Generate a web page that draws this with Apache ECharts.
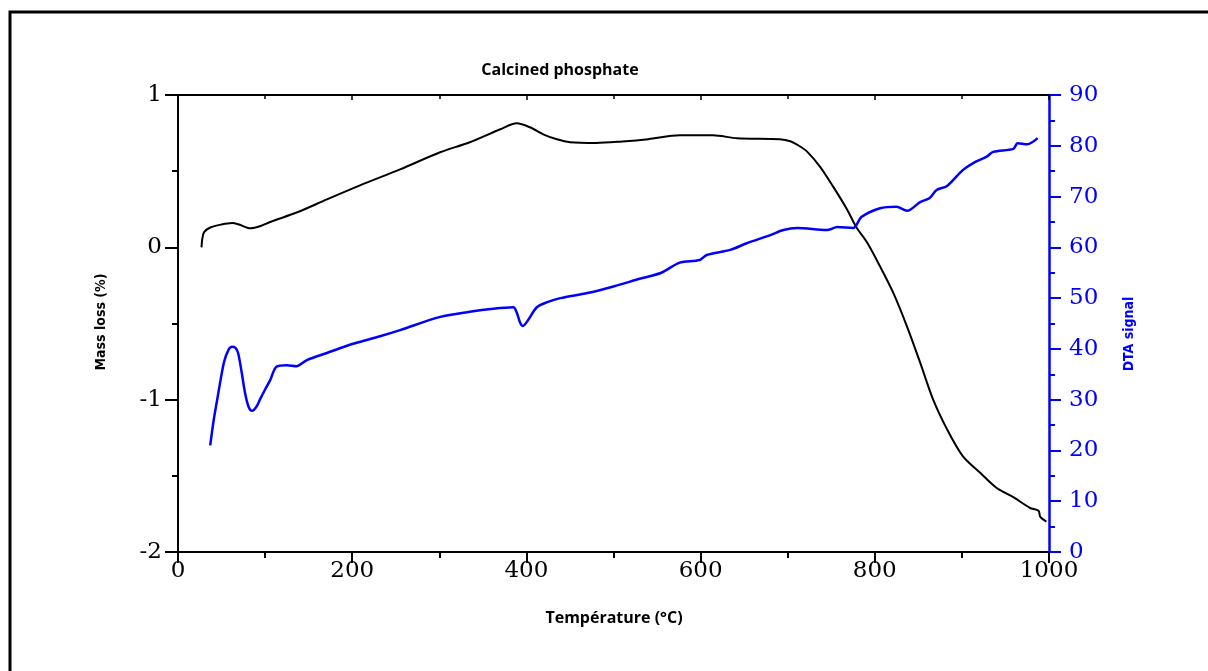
<!DOCTYPE html>
<html>
<head>
<meta charset="utf-8">
<script src="https://cdn.jsdelivr.net/npm/echarts@6/dist/echarts.min.js"></script>
<style>html,body{margin:0;padding:0;background:#fff}#c{width:1208px;height:671px}</style>
</head>
<body>
<div id="c"></div>
<script>
// Mass loss (TG) curve: [temperature °C, mass loss %]
const tgTemp = [27, 28, 30, 37, 50, 62, 70, 83, 95, 105, 137, 171, 209, 255, 301, 335, 370, 389, 404, 420, 435, 450, 480, 510, 540, 576, 614, 642, 691, 703, 712, 722, 737, 752, 768, 779, 791, 806, 821, 837, 852, 867, 883, 901, 921, 940, 959, 978, 988, 990, 997];
const tgValue = [0, 0.06, 0.1, 0.13, 0.15, 0.16, 0.15, 0.125, 0.14, 0.165, 0.23, 0.315, 0.407, 0.512, 0.624, 0.69, 0.775, 0.814, 0.788, 0.74, 0.709, 0.69, 0.685, 0.695, 0.71, 0.735, 0.735, 0.716, 0.709, 0.696, 0.67, 0.63, 0.53, 0.40, 0.25, 0.13, 0.033, -0.125, -0.296, -0.52, -0.755, -1.0, -1.195, -1.37, -1.48, -1.58, -1.64, -1.71, -1.73, -1.77, -1.80];
// DTA signal curve: [temperature °C, signal]
const dtaTemp = [37, 41, 45, 49, 53, 58, 62, 66, 69, 73, 77, 81, 85, 90, 94, 100, 106, 113, 125, 136, 148, 171, 201, 232, 255, 301, 335, 362, 385, 389, 393, 396, 402, 412, 424, 439, 470, 500, 530, 555, 576, 599, 607, 634, 653, 680, 695, 711, 745, 757, 775, 785, 806, 825, 837, 852, 863, 871, 883, 901, 913, 928, 936, 959, 964, 975, 987];
const dtaValue = [21, 26, 30, 34, 37.5, 39.8, 40.4, 40.2, 39.2, 35.5, 31.3, 28.6, 27.8, 28.6, 30, 32, 33.9, 36.5, 36.8, 36.6, 37.8, 39.2, 41, 42.5, 43.7, 46.3, 47.3, 47.9, 48.2, 47.1, 45.1, 44.5, 45.7, 48.2, 49.2, 50, 51, 52.3, 53.8, 55, 57, 57.5, 58.5, 59.5, 60.8, 62.4, 63.4, 63.8, 63.4, 64, 63.8, 66, 67.7, 68, 67.2, 68.9, 69.7, 71.3, 72.1, 75.2, 76.6, 77.8, 78.8, 79.4, 80.5, 80.3, 81.5];
const titleText = 'Calcined phosphate';
const xName = 'Température (°C)';
const yLeftName = 'Mass loss (%)';
const yRightName = 'DTA signal';

const tgData = tgTemp.map((t, i) => [t, tgValue[i]]);
const dtaData = dtaTemp.map((t, i) => [t, dtaValue[i]]);

const chart = echarts.init(document.getElementById('c'));
const serif = 'DejaVu Serif';
const narrow = "'DejaVu Sans Condensed', 'Liberation Sans Narrow', 'Roboto', sans-serif";
const blue = '#0000ff';
const plain = v => String(v);
chart.setOption({
  animation: false,
  backgroundColor: '#fff',
  grid: {left: 178, right: 159, top: 95, bottom: 119},
  xAxis: [{
    type: 'value', min: 0, max: 1000, interval: 200, position: 'bottom',
    axisLine: {show: true, onZero: false, lineStyle: {color: '#000', width: 2}},
    axisTick: {show: true, inside: false, length: 11, lineStyle: {color: '#000', width: 2}},
    minorTick: {show: true, splitNumber: 2, length: 6, lineStyle: {color: '#000', width: 2}},
    axisLabel: {color: '#000', fontFamily: serif, fontSize: 23, margin: 8, formatter: plain},
    splitLine: {show: false}
  }, {
    type: 'value', min: 0, max: 1000, interval: 200, position: 'top',
    axisLine: {show: true, onZero: false, lineStyle: {color: '#000', width: 2}},
    axisTick: {show: true, inside: true, length: 5, lineStyle: {color: '#000', width: 1.5}},
    minorTick: {show: true, splitNumber: 2, length: 4, lineStyle: {color: '#000', width: 1.5}},
    axisLabel: {show: false},
    splitLine: {show: false}
  }],
  yAxis: [{
    type: 'value', min: -2, max: 1, interval: 1, position: 'left',
    axisLine: {show: true, onZero: false, lineStyle: {color: '#000', width: 2}},
    axisTick: {show: true, inside: false, length: 13, lineStyle: {color: '#000', width: 2}},
    minorTick: {show: true, splitNumber: 2, length: 6, lineStyle: {color: '#000', width: 2}},
    axisLabel: {color: '#000', fontFamily: serif, fontSize: 23, margin: 16, formatter: plain},
    splitLine: {show: false}
  }, {
    type: 'value', min: 0, max: 90, interval: 10, position: 'right',
    axisLine: {show: true, onZero: false, lineStyle: {color: blue, width: 2.5}},
    axisTick: {show: true, inside: false, length: 12, lineStyle: {color: blue, width: 2}},
    minorTick: {show: true, splitNumber: 2, length: 6, lineStyle: {color: blue, width: 2}},
    axisLabel: {color: blue, fontFamily: serif, fontSize: 23, margin: 20, formatter: plain},
    splitLine: {show: false}
  }],
  series: [{
    type: 'line', name: 'TG', xAxisIndex: 0, yAxisIndex: 0, data: tgData,
    showSymbol: false, lineStyle: {color: '#000', width: 2}, smooth: 0.3
  }, {
    type: 'line', name: 'DTA', xAxisIndex: 0, yAxisIndex: 1, data: dtaData,
    showSymbol: false, lineStyle: {color: blue, width: 2.5}, smooth: 0.3
  }],
  graphic: [
    {type: 'rect', shape: {x: 10, y: 12, width: 1215, height: 700}, style: {fill: null, stroke: '#000', lineWidth: 3}, silent: true},
    {type: 'text', x: 560, y: 70, style: {text: titleText, fontFamily: 'Open Sans', fontWeight: 'bold', fontSize: 16, fill: '#000', textAlign: 'center', textVerticalAlign: 'middle'}},
    {type: 'text', x: 614, y: 618, style: {text: xName, fontFamily: 'Open Sans', fontWeight: 'bold', fontSize: 16, fill: '#000', textAlign: 'center', textVerticalAlign: 'middle'}},
    {type: 'text', x: 101, y: 322, rotation: Math.PI / 2, style: {text: yLeftName, fontFamily: narrow, fontWeight: 'bold', fontSize: 14, fill: '#000', textAlign: 'center', textVerticalAlign: 'middle'}},
    {type: 'text', x: 1129, y: 334, rotation: Math.PI / 2, style: {text: yRightName, fontFamily: narrow, fontWeight: 'bold', fontSize: 14, fill: blue, textAlign: 'center', textVerticalAlign: 'middle'}}
  ]
});
</script>
</body>
</html>
